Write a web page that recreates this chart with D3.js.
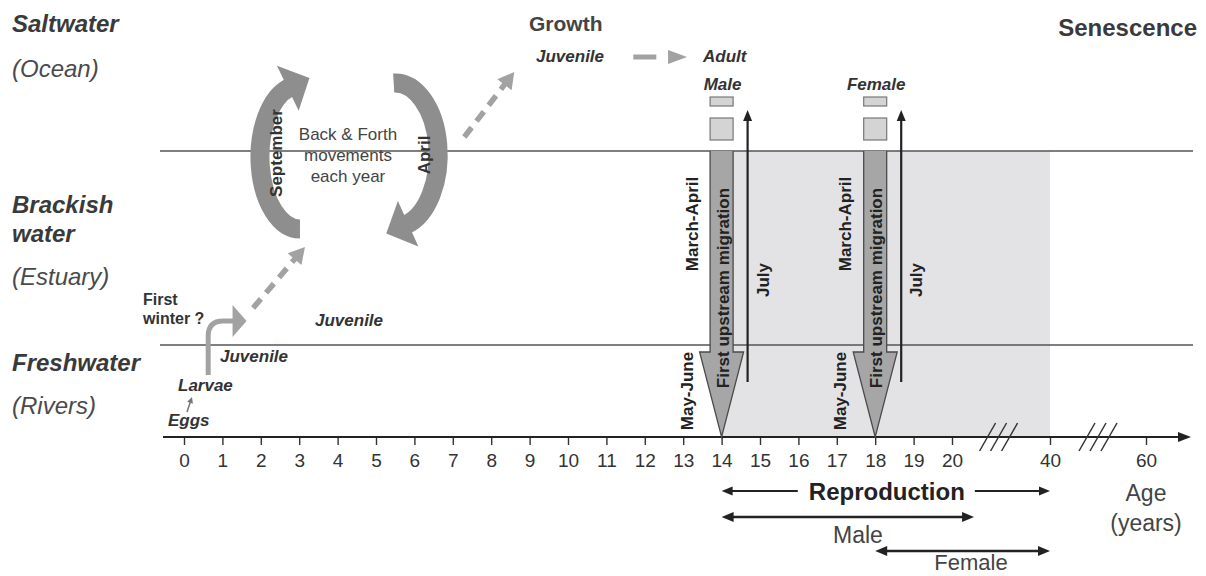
<!DOCTYPE html>
<html>
<head>
<meta charset="utf-8">
<script src="https://cdn.jsdelivr.net/npm/d3@7"></script>
<style>
  body { margin: 0; background: #fff; }
  svg { display: block; font-family: "Liberation Sans", Arial, sans-serif; }
</style>
</head>
<body>
<svg id="chart" width="1206" height="576"></svg>
<script>
// ---- data ----
const ageTicks = [0, 1, 2, 3, 4, 5, 6, 7, 8, 9, 10, 11, 12, 13, 14, 15, 16, 17, 18, 19, 20, 40, 60];
const ageAnchors = [0, 20, 40, 60];
const breakAges = [29.5, 50];
const zoneNames = [['Saltwater'], ['Brackish', 'water'], ['Freshwater']];
const zoneHabitats = ['(Ocean)', '(Estuary)', '(Rivers)'];
const firstMigration = [
  { sex: 'Male', age: 14 },
  { sex: 'Female', age: 18 }
];
const reproduction = [
  { label: 'Reproduction', from: 14, to: 40 },
  { label: 'Male', from: 14, to: 24.5 },
  { label: 'Female', from: 18, to: 40 }
];
const cycleText = ['Back & Forth', 'movements', 'each year'];
const cycleMonths = ['September', 'April'];
const earlyStages = ['Eggs', 'Larvae', 'Juvenile', 'Juvenile'];
const growthStages = ['Juvenile', 'Adult'];

// ---- layout ----
const svg = d3.select('#chart');
const x = d3.scaleLinear().domain(ageAnchors).range([184, 952, 1050, 1146]);
const ySalt = 151, yFresh = 345, yAxis = 437;
const dark = '#222', ink = '#333';

function txt(px, py, s, o = {}) {
  const t = svg.append('text')
    .attr('x', px)
    .attr('y', py)
    .attr('font-size', o.size || 17)
    .attr('font-weight', o.bold ? 'bold' : 'normal')
    .attr('font-style', o.italic ? 'italic' : 'normal')
    .attr('text-anchor', o.anchor || 'start')
    .attr('fill', o.fill || ink)
    .text(s);
  if (o.rotate) {
    t.attr('text-anchor', 'middle')
      .attr('dy', '0.35em')
      .attr('transform', `rotate(-90, ${px}, ${py})`);
  }
  return t;
}

function head(tx, ty, ang, len, hw, fill) {
  const c = Math.cos(ang), s = Math.sin(ang);
  const bx = tx - len * c, by = ty - len * s;
  svg.append('path')
    .attr('d', `M${tx},${ty}L${bx - hw * s},${by + hw * c}L${bx + hw * s},${by - hw * c}Z`)
    .attr('fill', fill);
}

function arrow(x1, y1, x2, y2, o = {}) {
  const col = o.color || dark, len = o.len || 11, hw = o.hw || 5;
  const ang = Math.atan2(y2 - y1, x2 - x1);
  const c = Math.cos(ang), s = Math.sin(ang);
  const sx = o.start ? x1 + (len - 1) * c : x1, sy = o.start ? y1 + (len - 1) * s : y1;
  const ex = o.end === false ? x2 : x2 - (len - 1) * c, ey = o.end === false ? y2 : y2 - (len - 1) * s;
  const l = svg.append('line')
    .attr('x1', sx).attr('y1', sy).attr('x2', ex).attr('y2', ey)
    .attr('stroke', col)
    .attr('stroke-width', o.width || 2.2);
  if (o.dash) l.attr('stroke-dasharray', o.dash);
  if (o.end !== false) head(x2, y2, ang, len, hw, col);
  if (o.start) head(x1, y1, ang + Math.PI, len, hw, col);
}

// ---- reproduction shading ----
svg.append('rect')
  .attr('x', x(14))
  .attr('y', ySalt)
  .attr('width', x(40) - x(14))
  .attr('height', yAxis - ySalt)
  .attr('fill', '#e3e3e5');

// ---- habitat boundaries ----
[ySalt, yFresh].forEach((yy) => {
  svg.append('line')
    .attr('x1', 160).attr('x2', 1193)
    .attr('y1', yy).attr('y2', yy)
    .attr('stroke', '#555')
    .attr('stroke-width', 1.3);
});

// ---- habitat labels ----
const nameY = [[32], [213, 242], [371]];
const habY = [77, 285, 414];
zoneNames.forEach((lines, i) => {
  lines.forEach((s, j) => txt(12, nameY[i][j], s, { size: 24, bold: true, italic: true, fill: '#3a3a3a' }));
  txt(12, habY[i], zoneHabitats[i], { size: 24, italic: true, fill: '#4a4a4a' });
});

// ---- axis ----
const axisG = svg.append('g')
  .attr('transform', `translate(0, ${yAxis})`)
  .call(d3.axisBottom(x).tickValues(ageTicks).tickSize(8).tickPadding(9).tickFormat(d3.format('d')));
axisG.select('.domain').remove();
axisG.selectAll('.tick line').attr('stroke', ink).attr('stroke-width', 1.4);
axisG.selectAll('.tick text')
  .attr('font-size', 19)
  .attr('fill', ink)
  .attr('font-family', '"Liberation Sans", Arial, sans-serif');
arrow(163, yAxis, 1191, yAxis, { width: 2, len: 13, hw: 5 });

// axis breaks
breakAges.forEach((a) => {
  [-11, 0, 11].forEach((off) => {
    const cx = x(a) + off;
    svg.append('line')
      .attr('x1', cx - 8).attr('y1', yAxis + 14)
      .attr('x2', cx + 8).attr('y2', yAxis - 14)
      .attr('stroke', ink)
      .attr('stroke-width', 1.5);
  });
});

// ---- first upstream migrations ----
firstMigration.forEach((m) => {
  const cx = x(m.age);
  const hw = 11.5, bw = 22, yHead = 352;
  svg.append('path')
    .attr('d', `M${cx - hw},${ySalt}V${yHead}H${cx - bw}L${cx},${yAxis}L${cx + bw},${yHead}H${cx + hw}V${ySalt}`)
    .attr('fill', '#a6a6a6')
    .attr('stroke', '#4a4a4a')
    .attr('stroke-width', 1.3);
  svg.append('rect')
    .attr('x', cx - hw).attr('y', 97)
    .attr('width', hw * 2).attr('height', 9)
    .attr('fill', '#d4d4d4').attr('stroke', '#777').attr('stroke-width', 1.2);
  svg.append('rect')
    .attr('x', cx - hw).attr('y', 118)
    .attr('width', hw * 2).attr('height', 22)
    .attr('fill', '#d4d4d4').attr('stroke', '#777').attr('stroke-width', 1.2);
  txt(cx + 1, 288, 'First upstream migration', { size: 17, bold: true, rotate: true, fill: dark });
  arrow(cx + 26, 382, cx + 26, 110, { width: 2.2, len: 11, hw: 4.5 });
  txt(cx + 41, 280, 'July', { size: 17, bold: true, rotate: true, fill: dark });
  txt(cx - 30, 224, 'March-April', { size: 17, bold: true, rotate: true, fill: dark });
  txt(cx - 35, 391, 'May-June', { size: 17, bold: true, rotate: true, fill: dark });
  txt(cx + 1, 90, m.sex, { size: 17, bold: true, italic: true, anchor: 'middle' });
});

// ---- back & forth cycle ----
const arcCol = '#8e8e8e';
function ellArc(cx, cy, rx, ry, a0, a1) {
  const r = Math.PI / 180;
  const p0 = [cx + rx * Math.cos(a0 * r), cy + ry * Math.sin(a0 * r)];
  const p1 = [cx + rx * Math.cos(a1 * r), cy + ry * Math.sin(a1 * r)];
  svg.append('path')
    .attr('d', `M${p0}A${rx},${ry} 0 0 1 ${p1}`)
    .attr('fill', 'none')
    .attr('stroke', arcCol)
    .attr('stroke-width', 19);
  const tang = Math.atan2(ry * Math.cos(a1 * r), -rx * Math.sin(a1 * r));
  const tip = [p1[0] + 22 * Math.cos(tang), p1[1] + 22 * Math.sin(tang)];
  head(tip[0], tip[1], tang, 24, 25, arcCol);
}
ellArc(x(3.02), 157, 40, 72, 90, 255);
ellArc(x(5.5), 155, 43, 72, -92, 75);
txt(x(3.02) - 24, 153, cycleMonths[0], { size: 17, bold: true, rotate: true });
txt(x(5.5) + 29, 155, cycleMonths[1], { size: 17, bold: true, rotate: true });
cycleText.forEach((s, i) => txt(x(4.27), 140 + i * 21, s, { size: 17, anchor: 'middle', fill: '#444' }));

// ---- early life ----
const dashCol = '#a2a2a2';
arrow(x(1.8), 308, x(3.15), 247, { color: dashCol, width: 5.5, dash: '12,8', len: 16, hw: 9 });
arrow(x(7.3), 137, x(8.6), 72, { color: dashCol, width: 5.5, dash: '12,8', len: 16, hw: 9 });
svg.append('path')
  .attr('d', `M${x(0.63)},375V336Q${x(0.63)},321 ${x(0.63) + 15},321H${x(1.28)}`)
  .attr('fill', 'none')
  .attr('stroke', dashCol)
  .attr('stroke-width', 5);
head(x(1.63), 321, 0, 14, 16, dashCol);
arrow(187, 412, 192, 397, { color: '#777', width: 1.5, len: 6, hw: 3 });

txt(143, 305, 'First', { size: 16, bold: true });
txt(143, 324, 'winter ?', { size: 16, bold: true });
txt(168, 426, earlyStages[0], { size: 17, bold: true, italic: true });
txt(178, 391, earlyStages[1], { size: 17, bold: true, italic: true });
txt(220, 362, earlyStages[2], { size: 17, bold: true, italic: true });
txt(315, 326, earlyStages[3], { size: 17, bold: true, italic: true });

// ---- growth ----
txt(529, 31, 'Growth', { size: 21, bold: true, fill: '#444' });
txt(536, 62, growthStages[0], { size: 17, bold: true, italic: true });
svg.append('line')
  .attr('x1', x(11.7)).attr('x2', x(12.3))
  .attr('y1', 57).attr('y2', 57)
  .attr('stroke', dashCol).attr('stroke-width', 5);
head(x(13.1), 57, 0, 19, 7, dashCol);
txt(703, 62, growthStages[1], { size: 17, bold: true, italic: true });
txt(1197, 36, 'Senescence', { size: 24, bold: true, anchor: 'end', fill: '#3a3a3a' });

// ---- reproduction ranges ----
const repY = [491, 517, 551];
const rep = reproduction[0];
const repLabel = txt((x(14) + x(40)) / 2 + 1, 500, rep.label, { size: 24, bold: true, anchor: 'middle', fill: dark });
const bb = repLabel.node().getBBox();
arrow(bb.x - 11, repY[0], x(rep.from), repY[0], { width: 2.2, len: 11, hw: 4.5 });
arrow(bb.x + bb.width + 10, repY[0], x(rep.to), repY[0], { width: 2.2, len: 11, hw: 4.5 });
reproduction.slice(1).forEach((r, i) => {
  arrow(x(r.from), repY[i + 1], x(r.to), repY[i + 1], { width: 2.6, len: 12, hw: 5, start: true });
});
txt(858, 543, reproduction[1].label, { size: 23, anchor: 'middle', fill: '#444' });
txt(971, 570, reproduction[2].label, { size: 22, anchor: 'middle', fill: '#444' });
txt(x(60), 501, 'Age', { size: 23, anchor: 'middle', fill: '#444' });
txt(x(60), 531, '(years)', { size: 23, anchor: 'middle', fill: '#444' });
</script>
</body>
</html>
